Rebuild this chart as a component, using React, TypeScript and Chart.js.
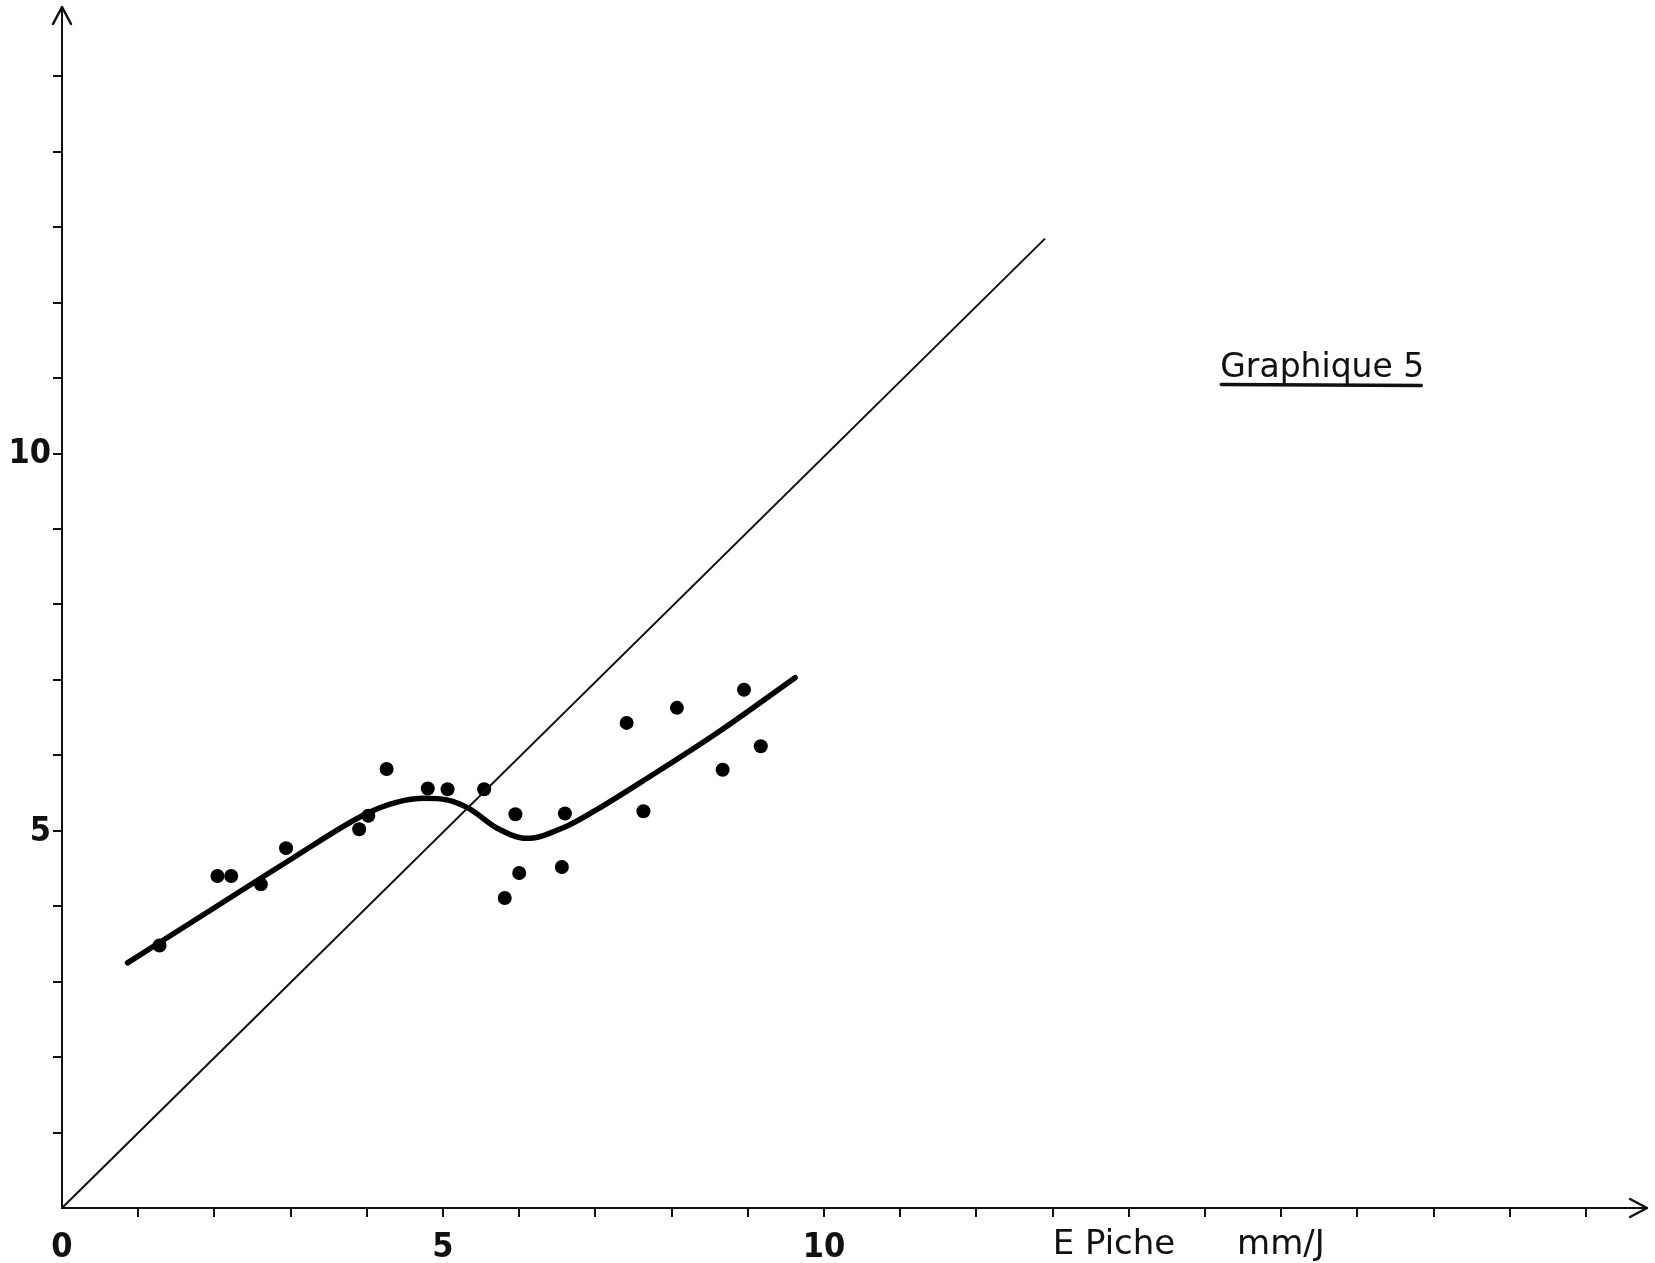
import React, { useEffect, useRef } from 'react';
import { Chart, registerables } from 'chart.js';

Chart.register(...registerables);

const W = 1655;
const H = 1263;

// Observed points (E Piche mm/J on x)
const dotX = [1.28, 2.04, 2.22, 2.61, 2.94, 3.9, 4.02, 4.26, 4.8, 5.06, 5.54, 5.81, 5.95, 6.0, 6.56, 6.6, 7.41, 7.63, 8.07, 8.67, 8.95, 9.17];
const dotY = [3.48, 4.4, 4.4, 4.29, 4.77, 5.02, 5.2, 5.82, 5.56, 5.55, 5.55, 4.11, 5.22, 4.44, 4.52, 5.23, 6.43, 5.26, 6.63, 5.81, 6.87, 6.12];

// Hand-drawn fitted curve
const curveX = [0.86, 2.0, 3.0, 3.98, 4.4, 4.75, 5.05, 5.35, 5.7, 6.1, 6.6, 7.0, 7.7, 8.6, 9.62];
const curveY = [3.25, 3.98, 4.62, 5.22, 5.38, 5.43, 5.41, 5.29, 5.04, 4.9, 5.05, 5.27, 5.71, 6.3, 7.03];

// Reference line y = x
const diagX = [0, 12.9];
const diagY = [0, 12.85];

const xTickLabels = [0, 5, 10];
const yTickLabels = [5, 10];
const xTitleLeft = 'E Piche';
const xTitleRight = 'mm/J';
const chartTitle = 'Graphique 5';

const X_MAX = 20.8;
const Y_MAX = 15.92;

export default function App() {
  const ref = useRef<HTMLCanvasElement>(null);

  useEffect(() => {
    const canvas = ref.current;
    if (!canvas) return;
    const fam = "'DejaVu Sans', sans-serif";
    const famC = "'DejaVu Sans Condensed', 'DejaVu Sans', sans-serif";
    const ink = '#111';

    const decor = {
      id: 'decor',
      afterDraw(chart: any) {
        const { ctx, chartArea, scales } = chart;
        const xs = scales.x;
        const ys = scales.y;
        const x0 = xs.getPixelForValue(0);
        const y0 = ys.getPixelForValue(0);
        ctx.save();
        ctx.strokeStyle = ink;
        ctx.fillStyle = ink;
        ctx.lineWidth = 2.5;
        ctx.lineCap = 'round';
        ctx.lineJoin = 'round';
        // y arrow
        const yTop = chartArea.top;
        ctx.beginPath();
        ctx.moveTo(x0 - 9, yTop + 17);
        ctx.lineTo(x0, yTop);
        ctx.lineTo(x0 + 9, yTop + 17);
        ctx.stroke();
        // x arrow
        const xR = chartArea.right;
        ctx.beginPath();
        ctx.moveTo(xR - 17, y0 - 9);
        ctx.lineTo(xR, y0);
        ctx.lineTo(xR - 17, y0 + 9);
        ctx.stroke();

        // tick labels
        ctx.font = `bold 34px ${famC}`;
        ctx.textAlign = 'center';
        ctx.textBaseline = 'alphabetic';
        xTickLabels.forEach((v) => {
          ctx.fillText(String(v), xs.getPixelForValue(v), y0 + 49);
        });
        ctx.textAlign = 'right';
        ctx.textBaseline = 'middle';
        yTickLabels.forEach((v) => {
          ctx.fillText(String(v), x0 - 11, ys.getPixelForValue(v) + 1);
        });

        // axis title
        ctx.font = `34px ${fam}`;
        ctx.textAlign = 'left';
        ctx.textBaseline = 'alphabetic';
        ctx.fillText(xTitleLeft, xs.getPixelForValue(13.0), y0 + 46);
        ctx.fillText(xTitleRight, xs.getPixelForValue(15.42), y0 + 46);

        // chart title with underline
        ctx.font = `33px ${fam}`;
        const tx = xs.getPixelForValue(15.2);
        const ty = ys.getPixelForValue(11.01);
        ctx.fillText(chartTitle, tx, ty);
        const tw = ctx.measureText(chartTitle).width;
        ctx.lineWidth = 3.5;
        ctx.beginPath();
        ctx.moveTo(tx + 1, ty + 7);
        ctx.lineTo(tx + tw - 3, ty + 8);
        ctx.stroke();
        ctx.restore();
      },
    };

    const tickColor = (c: any) => (c.tick && c.tick.value === 0 ? 'rgba(0,0,0,0)' : ink);

    const chart = new Chart(canvas, {
      type: 'scatter',
      data: {
        datasets: [
          {
            label: 'y = x',
            data: diagX.map((x, i) => ({ x, y: diagY[i] })),
            showLine: true,
            borderColor: ink,
            borderWidth: 2,
            pointRadius: 0,
            fill: false,
          },
          {
            label: 'courbe',
            data: curveX.map((x, i) => ({ x, y: curveY[i] })),
            showLine: true,
            borderColor: '#000',
            borderWidth: 5.5,
            borderCapStyle: 'round',
            pointRadius: 0,
            tension: 0.4,
            cubicInterpolationMode: 'monotone',
            fill: false,
          },
          {
            label: 'mesures',
            data: dotX.map((x, i) => ({ x, y: dotY[i] })),
            showLine: false,
            pointRadius: 7,
            pointBackgroundColor: '#000',
            pointBorderWidth: 0,
          },
        ],
      } as any,
      options: {
        responsive: false,
        animation: false,
        devicePixelRatio: 1,
        events: [],
        layout: { padding: { top: 7, right: 8, left: 0, bottom: 0 } },
        plugins: { legend: { display: false }, tooltip: { enabled: false }, title: { display: false } },
        scales: {
          x: {
            type: 'linear',
            position: 'bottom',
            min: 0,
            max: X_MAX,
            grid: { drawOnChartArea: false, drawTicks: true, tickLength: 9, color: tickColor, lineWidth: 2 },
            border: { display: true, color: ink, width: 2 },
            ticks: { display: false, stepSize: 1, includeBounds: false },
            afterFit: (s: any) => {
              s.height = 55;
            },
          },
          y: {
            type: 'linear',
            position: 'left',
            min: 0,
            max: Y_MAX,
            grid: { drawOnChartArea: false, drawTicks: true, tickLength: 9, color: tickColor, lineWidth: 2 },
            border: { display: true, color: ink, width: 2 },
            ticks: { display: false, stepSize: 1, includeBounds: false },
            afterFit: (s: any) => {
              s.width = 62;
            },
          },
        },
      } as any,
      plugins: [decor],
    });

    return () => chart.destroy();
  }, []);

  return (
    <div style={{ position: 'absolute', left: 0, top: 0, width: W, height: H, background: '#fff' }}>
      <canvas ref={ref} width={W} height={H} style={{ display: 'block', width: W, height: H }} />
    </div>
  );
}
